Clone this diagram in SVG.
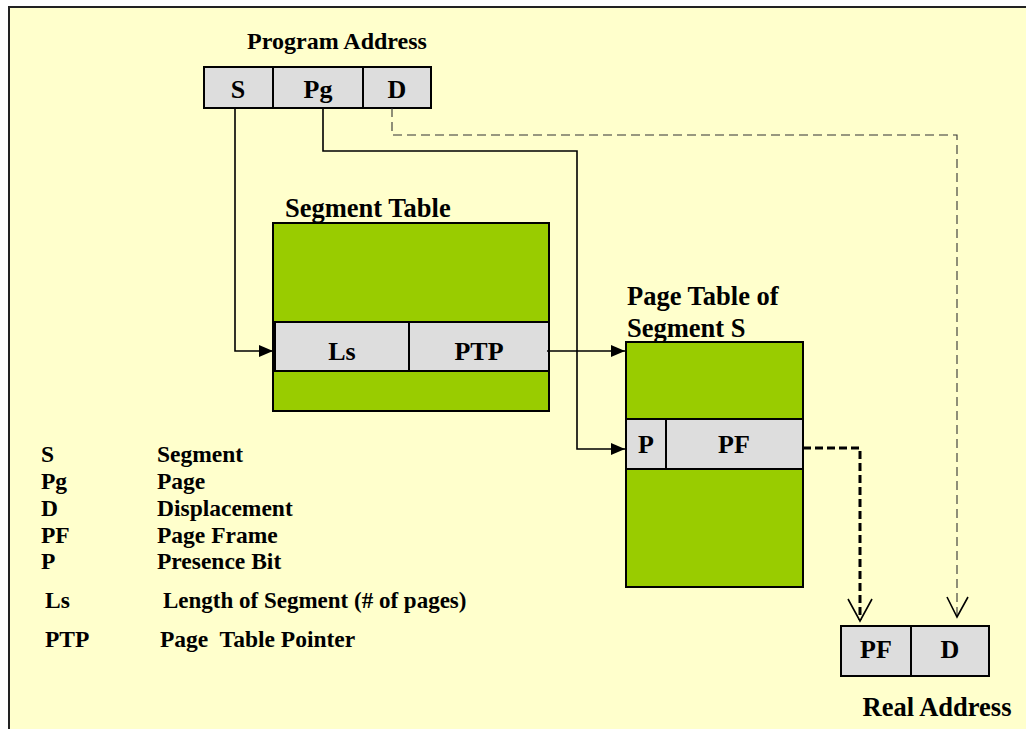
<svg xmlns="http://www.w3.org/2000/svg" width="1026" height="729" viewBox="0 0 1026 729">
<style>
  .t { font-family: "Liberation Serif", "Times New Roman", serif; font-weight: bold; fill: #000; }
  .title { font-size: 24px; }
  .title-l { font-size: 26.5px; }
  .cell-t { font-size: 26px; text-anchor: middle; }
  .leg { font-size: 23.5px; }
  .cell { fill: #DDDDDD; stroke: #000; stroke-width: 2; }
  .green { fill: #99CC00; stroke: #000; stroke-width: 2; }
  .div { stroke: #000; stroke-width: 2; }
  .solid { fill: none; stroke: #000; stroke-width: 1.6; }
  .dash-thin { fill: none; stroke: #333; stroke-width: 1.1; stroke-dasharray: 9 5; }
  .dash-thick { fill: none; stroke: #000; stroke-width: 3; stroke-dasharray: 8 4; }
  .open { fill: none; stroke: #000; stroke-width: 1.6; }
</style>
<defs>
  <marker id="arr" markerUnits="userSpaceOnUse" markerWidth="14" markerHeight="12" refX="14" refY="6" orient="auto">
    <path d="M0,0 L14,6 L0,12 z" fill="#000"/>
  </marker>
</defs>
<rect x="0" y="0" width="1026" height="729" fill="#FFFFFF"/>
<rect x="9" y="7" width="1017" height="722" fill="#FFFFCC"/>
<path d="M9,729 L9,7 L1026,7" fill="none" stroke="#222" stroke-width="2"/>

<g id="program-address">
  <text class="t title" x="337" y="49" text-anchor="middle">Program Address</text>
  <rect class="cell" x="204" y="67" width="227" height="41"/>
  <line class="div" x1="273" y1="67" x2="273" y2="108"/>
  <line class="div" x1="363" y1="67" x2="363" y2="108"/>
  <text class="t cell-t" x="238" y="98">S</text>
  <text class="t cell-t" x="318" y="98">Pg</text>
  <text class="t cell-t" x="397" y="98">D</text>
</g>

<g id="segment-table">
  <text class="t title-l" x="285" y="217">Segment Table</text>
  <rect class="green" x="273" y="223" width="276" height="188"/>
  <rect class="cell" x="275" y="322" width="274" height="49"/>
  <line class="div" x1="409" y1="322" x2="409" y2="371"/>
  <text class="t cell-t" x="342" y="360">Ls</text>
  <text class="t cell-t" x="479" y="360">PTP</text>
</g>

<g id="page-table">
  <text class="t title-l" x="627" y="305">Page Table of</text>
  <text class="t title-l" x="627" y="337">Segment S</text>
  <rect class="green" x="626" y="342" width="177" height="245"/>
  <rect class="cell" x="626" y="419" width="177" height="50"/>
  <line class="div" x1="666" y1="419" x2="666" y2="469"/>
  <text class="t cell-t" x="646" y="453">P</text>
  <text class="t cell-t" x="734" y="453">PF</text>
</g>

<g id="real-address">
  <rect class="cell" x="841" y="626" width="148" height="50"/>
  <line class="div" x1="911" y1="626" x2="911" y2="676"/>
  <text class="t cell-t" x="876" y="658">PF</text>
  <text class="t cell-t" x="950" y="658">D</text>
  <text class="t title-l" x="937" y="716" text-anchor="middle">Real Address</text>
</g>

<g id="legend">
  <text class="t leg" x="41" y="462">S</text>
  <text class="t leg" x="157" y="462">Segment</text>
  <text class="t leg" x="41" y="489">Pg</text>
  <text class="t leg" x="157" y="489">Page</text>
  <text class="t leg" x="41" y="516">D</text>
  <text class="t leg" x="157" y="516">Displacement</text>
  <text class="t leg" x="41" y="543">PF</text>
  <text class="t leg" x="157" y="543">Page Frame</text>
  <text class="t leg" x="41" y="569">P</text>
  <text class="t leg" x="157" y="569">Presence Bit</text>
  <text class="t leg" x="45" y="608">Ls</text>
  <text class="t leg" x="163" y="608" style="font-size:23px">Length of Segment (# of pages)</text>
  <text class="t leg" x="45" y="647">PTP</text>
  <text class="t leg" x="160" y="647" xml:space="preserve">Page  Table Pointer</text>
</g>

<g id="connectors">
  <polyline class="solid" points="235,108 235,351 273,351" marker-end="url(#arr)"/>
  <polyline class="solid" points="323,108 323,151 577,151 577,449 625,449" marker-end="url(#arr)"/>
  <line class="solid" x1="547" y1="351" x2="625" y2="351" marker-end="url(#arr)"/>
  <polyline class="dash-thin" points="392,108 392,135 957,135 957,616"/>
  <path class="open" d="M947,597 L957,617 L968,597"/>
  <polyline class="dash-thick" points="803,448 860,448 860,620"/>
  <path class="open" d="M848,599 L860,621 L872,599"/>
</g>
</svg>
